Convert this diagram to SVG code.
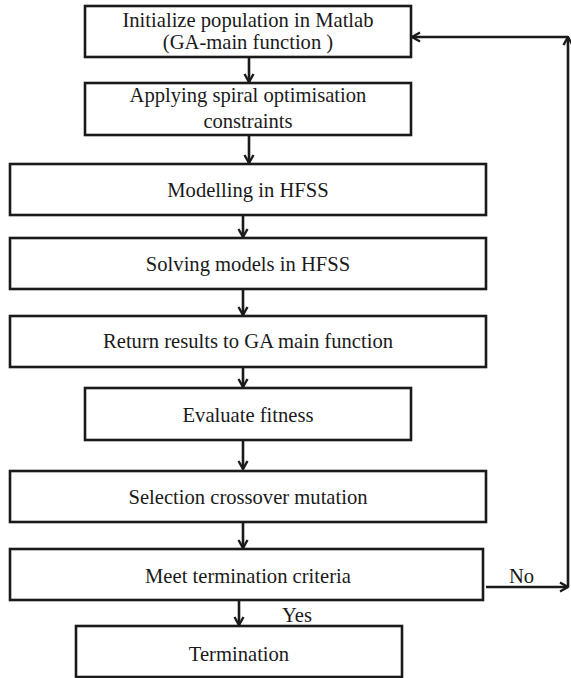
<svg xmlns="http://www.w3.org/2000/svg" width="571" height="678" viewBox="0 0 571 678">
<defs>
<style>
.box{fill:#fff;stroke:#1a1a1a;stroke-width:2.6}
.lbl{font-family:"Liberation Serif","Times New Roman",serif;font-size:20.6px;fill:#1a1a1a;text-anchor:middle}
.tag{font-family:"Liberation Serif","Times New Roman",serif;font-size:20.6px;fill:#1a1a1a}
.cn{fill:none;stroke:#1a1a1a;stroke-width:2.6}
</style>
<marker id="ah" viewBox="0 0 12 12" refX="11" refY="6" markerWidth="12" markerHeight="12" markerUnits="userSpaceOnUse" orient="auto">
<polyline points="3,1.5 11,6 3,10.5" fill="none" stroke="#1a1a1a" stroke-width="2.4"/>
</marker>
</defs>
<rect width="571" height="678" fill="#fff"/>
<g id="connectors">
<line class="cn" x1="249" y1="57" x2="249" y2="82" marker-end="url(#ah)"/>
<line class="cn" x1="249" y1="135" x2="249" y2="163" marker-end="url(#ah)"/>
<line class="cn" x1="243" y1="215" x2="243" y2="237" marker-end="url(#ah)"/>
<line class="cn" x1="243" y1="289" x2="243" y2="315" marker-end="url(#ah)"/>
<line class="cn" x1="243" y1="367" x2="243" y2="387" marker-end="url(#ah)"/>
<line class="cn" x1="243" y1="440" x2="243" y2="469" marker-end="url(#ah)"/>
<line class="cn" x1="243" y1="522" x2="243" y2="548" marker-end="url(#ah)"/>
<line class="cn" x1="239" y1="600" x2="239" y2="625" marker-end="url(#ah)"/>
<line class="cn" x1="486" y1="587" x2="568" y2="587" marker-end="url(#ah)"/>
<line class="cn" x1="568" y1="587" x2="568" y2="37" marker-end="url(#ah)"/>
<line class="cn" x1="568" y1="37" x2="412" y2="37" marker-end="url(#ah)"/>
<text class="tag" x="509" y="583">No</text>
<text class="tag" x="282" y="622">Yes</text>
</g>
<g id="n1"><rect class="box" x="85" y="6" width="326" height="51"/>
<text class="lbl" x="248" y="27">Initialize population in Matlab</text>
<text class="lbl" x="248" y="49">(GA-main function )</text></g>
<g id="n2"><rect class="box" x="85" y="83" width="326" height="52"/>
<text class="lbl" x="248" y="102">Applying spiral optimisation</text>
<text class="lbl" x="248" y="128">constraints</text></g>
<g id="n3"><rect class="box" x="10" y="164" width="476" height="51"/>
<text class="lbl" x="248" y="197">Modelling in HFSS</text></g>
<g id="n4"><rect class="box" x="10" y="238" width="476" height="51"/>
<text class="lbl" x="248" y="271">Solving models in HFSS</text></g>
<g id="n5"><rect class="box" x="10" y="316" width="476" height="51"/>
<text class="lbl" x="248" y="348">Return results to GA main function</text></g>
<g id="n6"><rect class="box" x="85" y="388" width="326" height="52"/>
<text class="lbl" x="248" y="422">Evaluate fitness</text></g>
<g id="n7"><rect class="box" x="10" y="471" width="476" height="51"/>
<text class="lbl" x="248" y="504">Selection crossover mutation</text></g>
<g id="n8"><rect class="box" x="10" y="549" width="473" height="51"/>
<text class="lbl" x="248" y="583">Meet termination criteria</text></g>
<g id="n9"><rect class="box" x="76" y="626" width="326" height="51"/>
<text class="lbl" x="239" y="661">Termination</text></g>
</svg>
